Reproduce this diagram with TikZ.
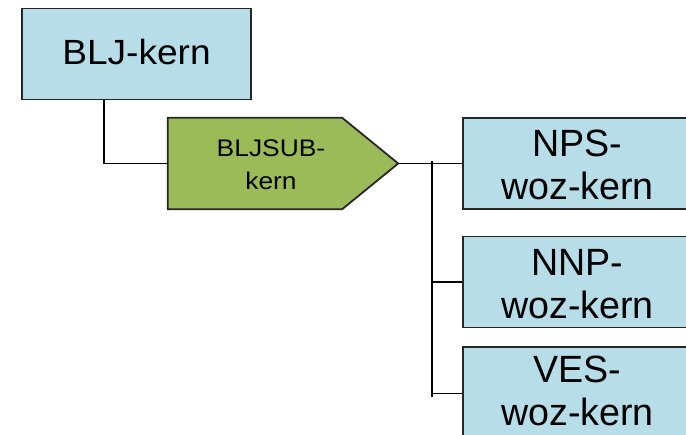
\documentclass[tikz,border=0pt]{standalone}
\usepackage{fontspec}
\setmainfont{Liberation Sans}
\usetikzlibrary{calc}
\definecolor{boxblue}{HTML}{B7DEE8}
\definecolor{boxgreen}{HTML}{9BBB59}
\newcommand{\sttxt}[2]{\scalebox{#1}[1]{\begin{tabular}[b]{@{}c@{}}#2\end{tabular}}}
\tikzset{
  bluebox/.style={draw=black!85, line width=1.8pt, fill=boxblue, minimum width=229pt, minimum height=91pt, inner sep=0pt},
  lbl/.style={anchor=base, inner sep=0pt, text=black},
  conn/.style={draw=black, line width=1.5pt},
}
\begin{document}
\begin{tikzpicture}[x=1pt,y=-1pt]
\useasboundingbox (0,0) rectangle (686,435);
\clip (0,0) rectangle (686,435);
\node[bluebox] (blj) at (136.5,54) {};
\node[lbl, font=\fontsize{35}{40}\selectfont] (bljtxt) at ($(blj.center)+(0,11)$) {\sttxt{1.06}{BLJ-kern}};
\node[minimum width=174pt, minimum height=91pt, inner sep=0pt] (sub) at (255,163.5) {};
\coordinate (subtip) at ($(sub.east)+(56,0)$);
\path[draw=black!85, line width=1.8pt, fill=boxgreen] (sub.north west) -- (sub.north east) -- (subtip) -- (sub.south east) -- (sub.south west) -- cycle;
\node[lbl, font=\fontsize{24}{33}\selectfont] (subtxt) at ($(sub.center)+(16,26.5)$) {\sttxt{1.1}{BLJSUB-\\kern}};
\node[bluebox] (nps) at (577.5,163.5) {};
\node[bluebox] (nnp) at (577.5,282) {};
\node[bluebox] (ves) at (577.5,392.5) {};
\node[lbl, font=\fontsize{38}{43.3}\selectfont] (npstxt) at ($(nps.center)+(0,36.5)$) {\sttxt{0.99}{NPS-\\woz-kern}};
\node[lbl, font=\fontsize{38}{43.3}\selectfont] (nnptxt) at ($(nnp.center)+(0,36.5)$) {\sttxt{0.99}{NNP-\\woz-kern}};
\node[lbl, font=\fontsize{38}{43.3}\selectfont] (vestxt) at ($(ves.center)+(0,33)$) {\sttxt{0.99}{VES-\\woz-kern}};
\coordinate (bustop) at (432,161);
\coordinate (busbot) at (432,397);
\draw[conn] ($(blj.south)+(-32.5,0)$) |- (sub.west);
\draw[conn] (subtip) -- (nps.west);
\draw[conn] (bustop) -- (busbot);
\draw[conn] (nnp.west) -- (nnp.west -| bustop);
\draw[conn] ($(ves.west)+(0,1)$) -- ($(ves.west -| bustop)+(0,1)$);
\end{tikzpicture}
\end{document}
